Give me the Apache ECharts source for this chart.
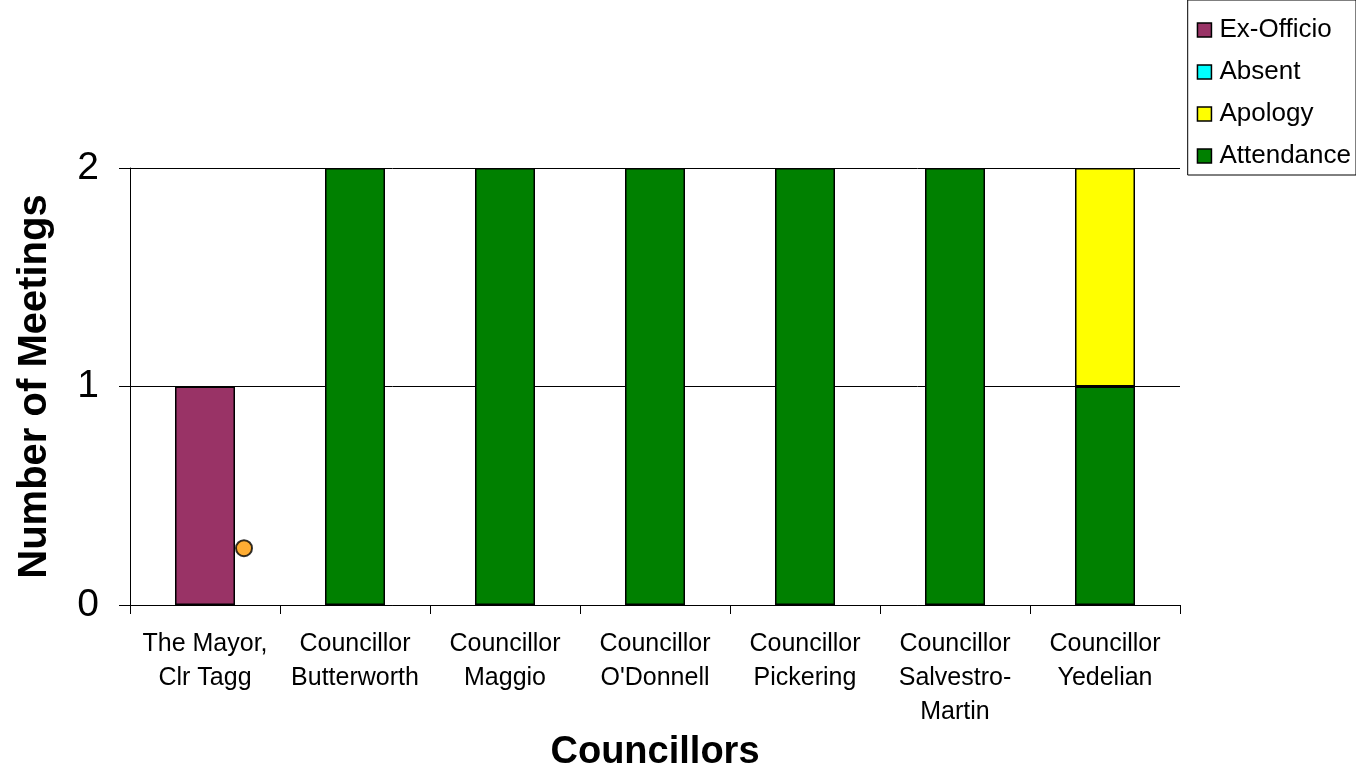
<!DOCTYPE html>
<html>
<head>
<meta charset="utf-8">
<script src="https://cdn.jsdelivr.net/npm/echarts@6/dist/echarts.min.js"></script>
<style>
html,body{margin:0;padding:0;background:#fff;}
#chart{width:1356px;height:769px;}
</style>
</head>
<body>
<div id="chart"></div>
<script>
const categories = ["The Mayor,\nClr Tagg", "Councillor\nButterworth", "Councillor\nMaggio", "Councillor\nO'Donnell", "Councillor\nPickering", "Councillor\nSalvestro-\nMartin", "Councillor\nYedelian"];
const attendance = [0, 2, 2, 2, 2, 2, 1];
const apology    = [0, 0, 0, 0, 0, 0, 1];
const absent     = [0, 0, 0, 0, 0, 0, 0];
const exOfficio  = [1, 0, 0, 0, 0, 0, 0];
const noteMarker = [[0, 0.26]];
const yTicks = [0, 1, 2];

const FONT = "'Liberation Sans', Arial, sans-serif";
const nz = arr => arr.map(v => v === 0 ? null : v);

function barSeries(name, data, color) {
  return {
    name: name, type: 'bar', stack: 'total', barWidth: '40%',
    data: nz(data),
    itemStyle: { color: color, borderColor: '#000', borderWidth: 1.5 },
    emphasis: { disabled: true }
  };
}

const chart = echarts.init(document.getElementById('chart'), null, { renderer: 'canvas' });
chart.setOption({
  animation: false,
  backgroundColor: '#fff',
  textStyle: { fontFamily: FONT },
  grid: { left: 130, right: 176, top: 168, bottom: 164, containLabel: false, outerBoundsMode: 'none' },
  legend: {
    data: ['Ex-Officio', 'Absent', 'Apology', 'Attendance'],
    orient: 'vertical',
    right: 0, top: 0,
    padding: [17, 5, 6, 9],
    itemGap: 16,
    itemWidth: 14, itemHeight: 14,
    icon: 'rect',
    itemStyle: { borderColor: '#000', borderWidth: 1.5 },
    textStyle: { fontSize: 26, lineHeight: 26, color: '#000', fontFamily: FONT, padding: [0, 0, 0, 3] },
    borderColor: '#000', borderWidth: 1,
    backgroundColor: '#fff'
  },
  xAxis: {
    type: 'category',
    data: categories,
    name: 'Councillors',
    nameLocation: 'middle',
    nameGap: 126,
    nameTextStyle: { fontSize: 38, fontWeight: 'bold', color: '#000', fontFamily: FONT },
    axisLine: { lineStyle: { color: '#000', width: 1 } },
    axisTick: { show: true, alignWithLabel: false, length: 9, lineStyle: { color: '#000' } },
    axisLabel: { fontSize: 25, color: '#000', lineHeight: 34, margin: 22, interval: 0, fontFamily: FONT },
    splitLine: { show: false }
  },
  yAxis: {
    type: 'value',
    min: yTicks[0], max: yTicks[yTicks.length - 1], interval: 1,
    name: 'Number of Meetings',
    nameLocation: 'middle',
    nameGap: 75,
    nameTextStyle: { fontSize: 40, fontWeight: 'bold', color: '#000', fontFamily: FONT },
    axisLine: { show: true, lineStyle: { color: '#000', width: 1 } },
    axisTick: { show: true, length: 11, lineStyle: { color: '#000' } },
    axisLabel: { fontSize: 39, color: '#000', margin: 31, fontFamily: FONT },
    splitLine: { show: true, lineStyle: { color: '#000', width: 1 } }
  },
  series: [
    barSeries('Attendance', attendance, '#008000'),
    barSeries('Apology', apology, '#FFFF00'),
    barSeries('Absent', absent, '#00FFFF'),
    barSeries('Ex-Officio', exOfficio, '#993366'),
    {
      name: 'Note', type: 'scatter', data: noteMarker,
      symbol: 'circle', symbolSize: 16, symbolOffset: [39, 0],
      itemStyle: { color: '#FF9900', borderColor: '#000', borderWidth: 2 },
      z: 5, emphasis: { disabled: true }
    }
  ]
});
</script>
</body>
</html>
